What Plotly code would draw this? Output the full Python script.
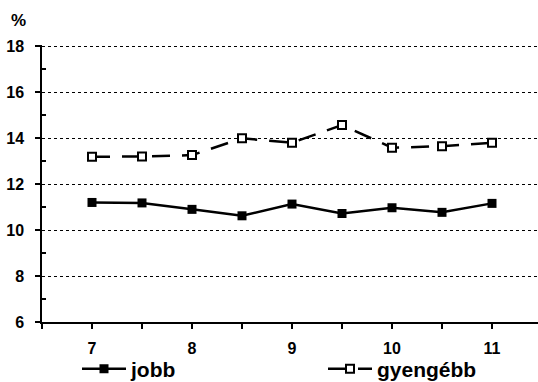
import plotly.graph_objects as go

x_vals = [7, 7.5, 8, 8.5, 9, 9.5, 10, 10.5, 11]
jobb = [11.2, 11.18, 10.9, 10.62, 11.13, 10.72, 10.97, 10.77, 11.16]
gyengebb = [13.19, 13.2, 13.26, 13.99, 13.8, 14.57, 13.58, 13.65, 13.8]
x_tickvals = [6.5, 7, 7.5, 8, 8.5, 9, 9.5, 10, 10.5, 11, 11.5]
x_ticktext = ["", "7", "", "8", "", "9", "", "10", "", "11", ""]
y_tickvals = [6, 8, 10, 12, 14, 16, 18]

FONT = "Liberation Sans, Arial, sans-serif"

fig = go.Figure()
fig.add_trace(go.Scatter(
    x=x_vals, y=jobb, name="jobb", mode="lines+markers", legend="legend",
    line=dict(color="black", width=2.5),
    marker=dict(symbol="square", size=9, color="black"),
))
fig.add_trace(go.Scatter(
    x=x_vals, y=gyengebb, name="gyengébb", mode="lines+markers", legend="legend2",
    line=dict(color="black", width=2.5, dash="18px,12px"),
    marker=dict(symbol="square", size=8, color="white",
                line=dict(color="black", width=2)),
))

legend_common = dict(xref="container", yref="container", xanchor="left",
                     yanchor="middle", font=dict(size=21, family=FONT, weight="bold"),
                     itemwidth=44, bgcolor="rgba(0,0,0,0)")

fig.update_layout(
    width=538, height=382,
    margin=dict(l=42, r=0, t=45, b=60, autoexpand=False),
    paper_bgcolor="white", plot_bgcolor="white",
    font=dict(family=FONT, color="black"),
    showlegend=True,
    legend=dict(x=77/538, y=13/382, **legend_common),
    legend2=dict(x=323/538, y=13/382, **legend_common),
)
fig.add_annotation(text="<b>%</b>", xref="paper", yref="paper",
                   x=-33/496, y=1 + 25/277, xanchor="left", yanchor="middle",
                   showarrow=False, font=dict(size=17, family=FONT))

fig.update_xaxes(
    range=[6.5, 11.46], tickvals=x_tickvals, ticktext=x_ticktext,
    showgrid=False, zeroline=False, showline=True, linecolor="black", linewidth=1.5,
    ticks="outside", ticklen=5, tickcolor="black", tickwidth=1.5,
    tickfont=dict(size=16, family=FONT, weight="bold"), ticklabelstandoff=6,
)
fig.update_yaxes(
    range=[6, 18.05], tickvals=y_tickvals,
    showgrid=True, gridcolor="black", gridwidth=1, griddash="3px,3px",
    zeroline=False, showline=True, linecolor="black", linewidth=1.5,
    ticks="outside", ticklen=5, tickcolor="black", tickwidth=1.5,
    tickfont=dict(size=16, family=FONT, weight="bold"), ticklabelstandoff=8,
    minor=dict(tickvals=[7, 9, 11, 13, 15, 17], ticks="inside", ticklen=4,
               tickcolor="black", tickwidth=1.5, showgrid=False),
)

fig.write_html("out.html")
